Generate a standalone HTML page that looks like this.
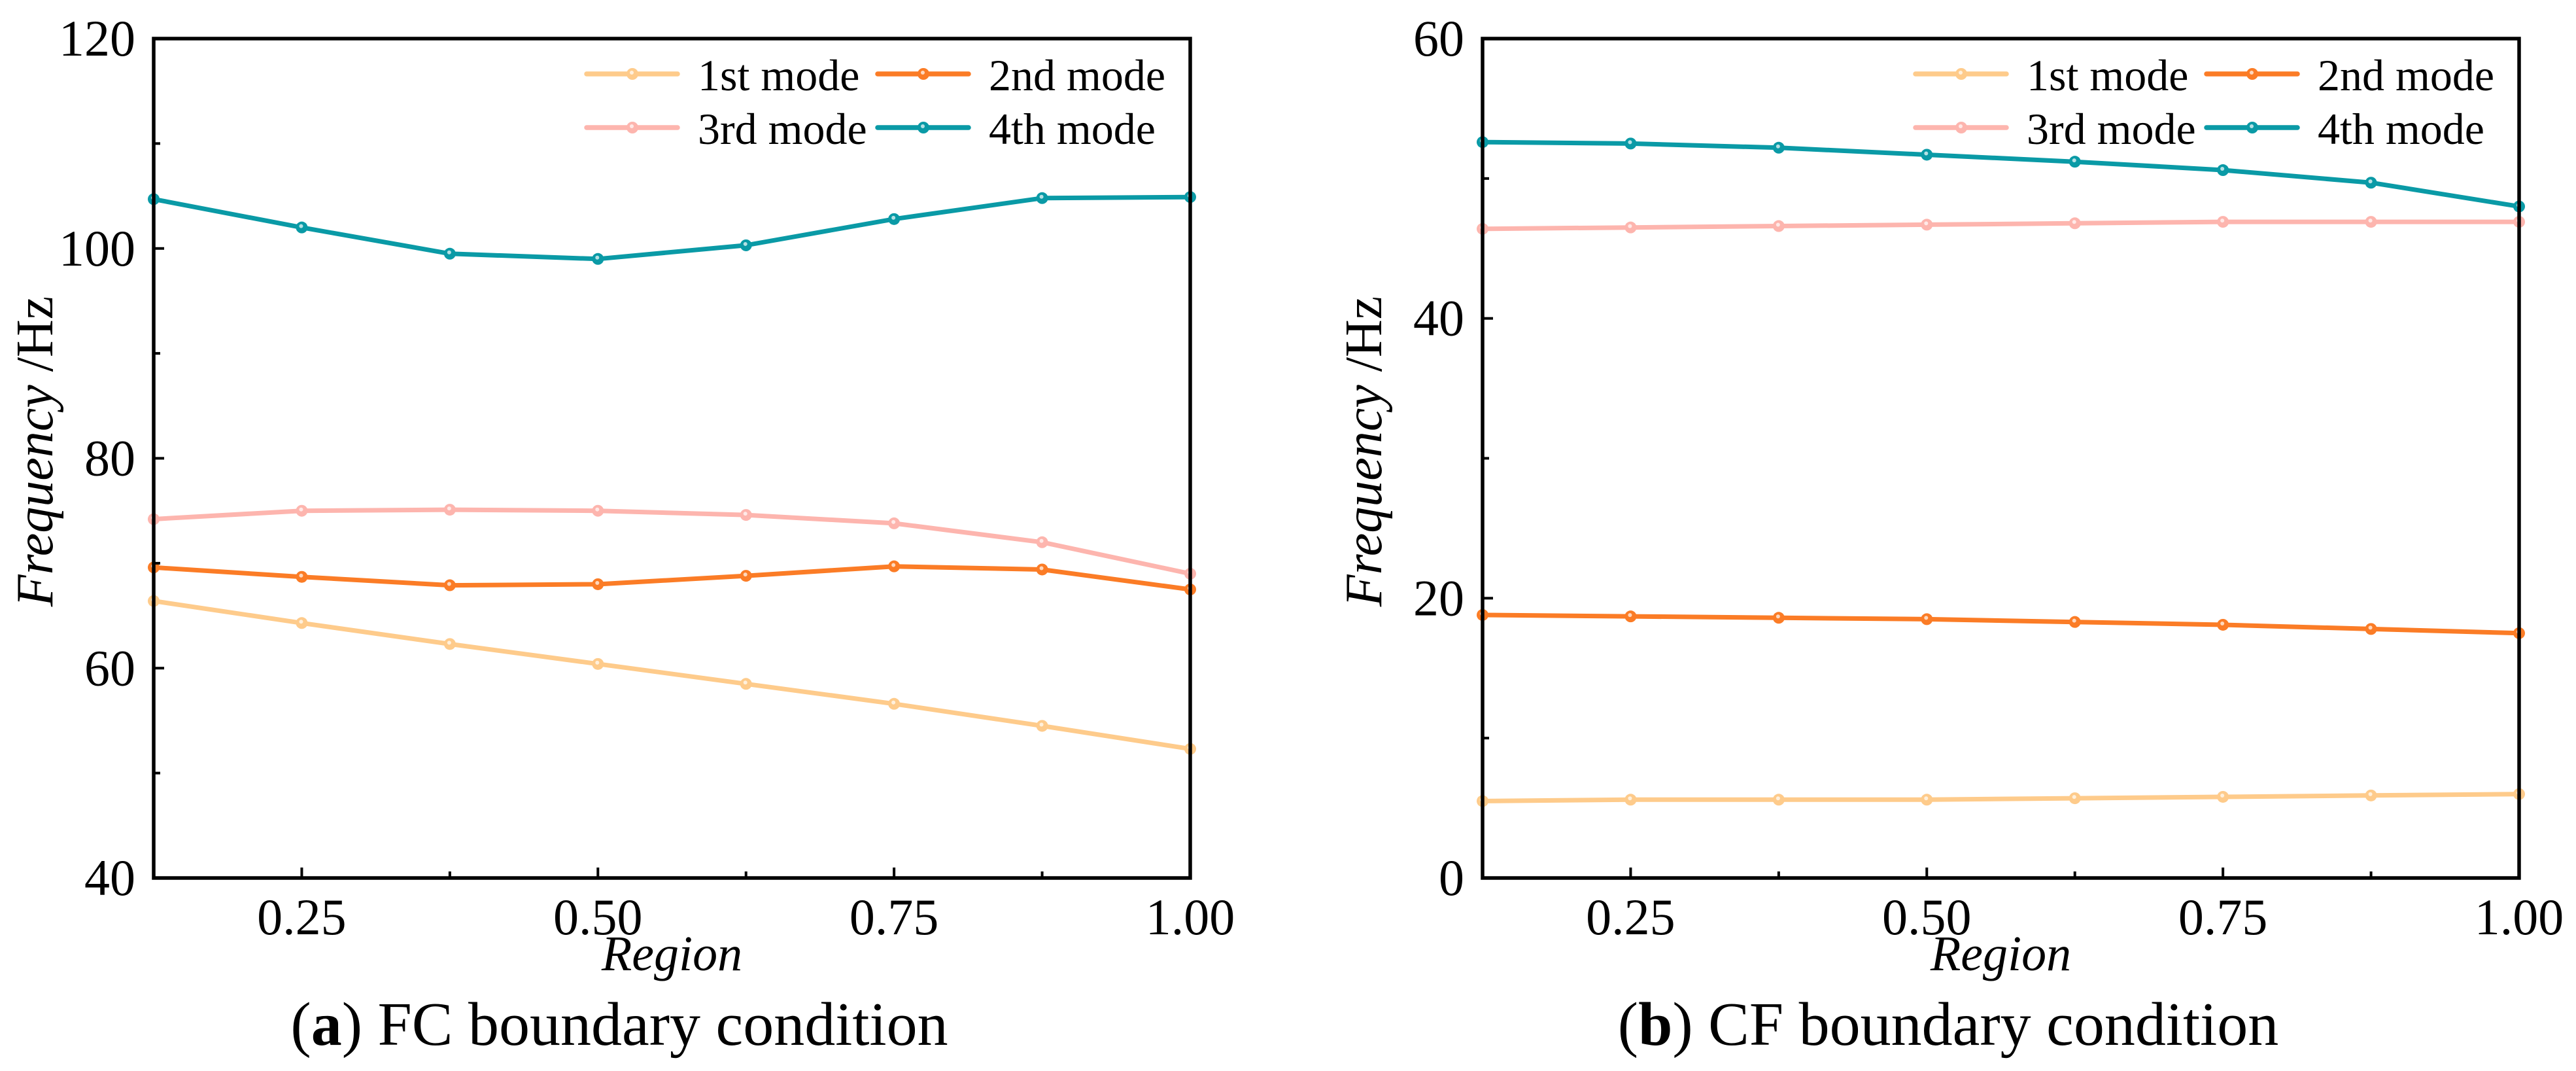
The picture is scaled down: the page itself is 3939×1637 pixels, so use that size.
<!DOCTYPE html>
<html><head><meta charset="utf-8"><style>
html,body{margin:0;padding:0;background:#fff;}
svg{display:block;font-family:"Liberation Serif",serif;}
</style></head><body>
<svg id="fig" width="3939" height="1637" viewBox="0 0 3939 1637" xmlns="http://www.w3.org/2000/svg"></svg>
<script>
const xValues = [0.125, 0.25, 0.375, 0.5, 0.625, 0.75, 0.875, 1.0];
const xTickLabels = ["0.25", "0.50", "0.75", "1.00"];
const xTickValues = [0.25, 0.5, 0.75, 1.0];
const seriesNames = ["1st mode", "2nd mode", "3rd mode", "4th mode"];
const seriesColors = ["#fecb8b", "#fb7c26", "#fdb5ae", "#0a9aa6"];
// Panel (a) FC
const fc1 = [66.4, 64.3, 62.3, 60.4, 58.5, 56.6, 54.5, 52.3];
const fc2 = [69.6, 68.7, 67.9, 68.0, 68.8, 69.7, 69.4, 67.5];
const fc3 = [74.2, 75.0, 75.1, 75.0, 74.6, 73.8, 72.0, 69.0];
const fc4 = [104.7, 102.0, 99.5, 99.0, 100.3, 102.8, 104.8, 104.9];
const fcYTicks = [40, 60, 80, 100, 120];
// Panel (b) CF
const cf1 = [5.5, 5.6, 5.6, 5.6, 5.7, 5.8, 5.9, 6.0];
const cf2 = [18.8, 18.7, 18.6, 18.5, 18.3, 18.1, 17.8, 17.5];
const cf3 = [46.4, 46.5, 46.6, 46.7, 46.8, 46.9, 46.9, 46.9];
const cf4 = [52.6, 52.5, 52.2, 51.7, 51.2, 50.6, 49.7, 48.0];
const cfYTicks = [0, 20, 40, 60];

const NS = "http://www.w3.org/2000/svg";
const svg = document.getElementById("fig");
function mk(tag, attrs, parent) {
  const e = document.createElementNS(NS, tag);
  for (const k in attrs) e.setAttribute(k, attrs[k]);
  (parent || svg).appendChild(e);
  return e;
}

function panel(ox, tag, caption, series, yTicks, key) {
  const L = ox + 235, R = ox + 1820, T = 59, B = 1342;
  const xmin = 0.125, xmax = 1.0;
  const ymin = yTicks[0], ymax = yTicks[yTicks.length - 1];
  const sx = v => L + (v - xmin) / (xmax - xmin) * (R - L);
  const sy = v => B - (v - ymin) / (ymax - ymin) * (B - T);
  const g = mk("g", {});
  
  

  series.forEach((vals, si) => {
    const pts = vals.map((v, i) => sx(xValues[i]).toFixed(1) + "," + sy(v).toFixed(1)).join(" ");
    const sg = mk("g", {}, g);
    
    
    const pl = mk("polyline", {points: pts, fill: "none", stroke: seriesColors[si], "stroke-width": 7, "stroke-linejoin": "round"}, sg);
    
    
    vals.forEach((v, i) => {
      const c = mk("circle", {cx: sx(xValues[i]), cy: sy(v), r: 9, fill: seriesColors[si]}, sg);
      
      
      const h = mk("circle", {cx: sx(xValues[i]) - 1, cy: sy(v) - 2, r: 3, fill: "#fff", opacity: 0.7}, sg);
      
      
    });
  });

  const fr = mk("rect", {x: L, y: T, width: R - L, height: B - T, fill: "none", stroke: "#000", "stroke-width": 5.5}, g);
  
  

  const step = yTicks[1] - yTicks[0];
  yTicks.forEach((v, i) => {
    const t = mk("line", {x1: L, x2: L + 16, y1: sy(v), y2: sy(v), stroke: "#000", "stroke-width": 4}, g);
    
    
    const lb = mk("text", {x: L - 28, y: sy(v) + 26, "text-anchor": "end", "font-size": 78}, g);
    lb.textContent = String(v);
    
    
    if (i < yTicks.length - 1) {
      const m = mk("line", {x1: L, x2: L + 10, y1: sy(v + step / 2), y2: sy(v + step / 2), stroke: "#000", "stroke-width": 4}, g);
      
      
    }
  });
  xTickValues.forEach((v, i) => {
    const t = mk("line", {x1: sx(v), x2: sx(v), y1: B, y2: B - 16, stroke: "#000", "stroke-width": 4}, g);
    
    
    const lb = mk("text", {x: sx(v), y: 1428, "text-anchor": "middle", "font-size": 78}, g);
    lb.textContent = xTickLabels[i];
    
    
    const mv = v + 0.125;
    if (mv < 1.0) {
      const m = mk("line", {x1: sx(mv), x2: sx(mv), y1: B, y2: B - 10, stroke: "#000", "stroke-width": 4}, g);
      
      
    }
  });

  const xt = mk("text", {x: (L + R) / 2, y: 1483, "text-anchor": "middle", "font-size": 76, "font-style": "italic"}, g);
  xt.textContent = "Region";
  
  
  const yt = mk("text", {x: 0, y: 0, "text-anchor": "middle", "font-size": 80, transform: "translate(" + (ox + 80) + ",690) rotate(-90)"}, g);
  
  
  const ys1 = mk("tspan", {"font-style": "italic"}, yt); ys1.textContent = "Frequency";
  const ys2 = mk("tspan", {}, yt); ys2.textContent = " /Hz";

  const lg = mk("g", {}, g);
  
  
  const lx = [ox + 897, ox + 1342], ly = [113, 195];
  seriesNames.forEach((n, i) => {
    const cx = lx[i % 2], cy = ly[Math.floor(i / 2)];
    const eg = mk("g", {}, lg);
    
    
    mk("line", {x1: cx, x2: cx + 139, y1: cy, y2: cy, stroke: seriesColors[i], "stroke-width": 7.5, "stroke-linecap": "round"}, eg);
    mk("circle", {cx: cx + 70, cy: cy, r: 9, fill: seriesColors[i]}, eg);
    mk("circle", {cx: cx + 69, cy: cy - 2, r: 3, fill: "#fff", opacity: 0.7}, eg);
    const tx = mk("text", {x: cx + 170, y: cy + 25, "font-size": 68}, eg);
    tx.textContent = n;
  });

  const cap = mk("text", {x: ox + 947, y: 1597, "text-anchor": "middle", "font-size": 94}, g);
  
  
  const c1 = mk("tspan", {}, cap); c1.textContent = "(";
  const c2 = mk("tspan", {"font-weight": "bold"}, cap); c2.textContent = tag;
  const c3 = mk("tspan", {}, cap); c3.textContent = ") " + caption;
}

panel(0, "a", "FC boundary condition", [fc1, fc2, fc3, fc4], fcYTicks, "fc");
panel(2032, "b", "CF boundary condition", [cf1, cf2, cf3, cf4], cfYTicks, "cf");
</script>
</body></html>
